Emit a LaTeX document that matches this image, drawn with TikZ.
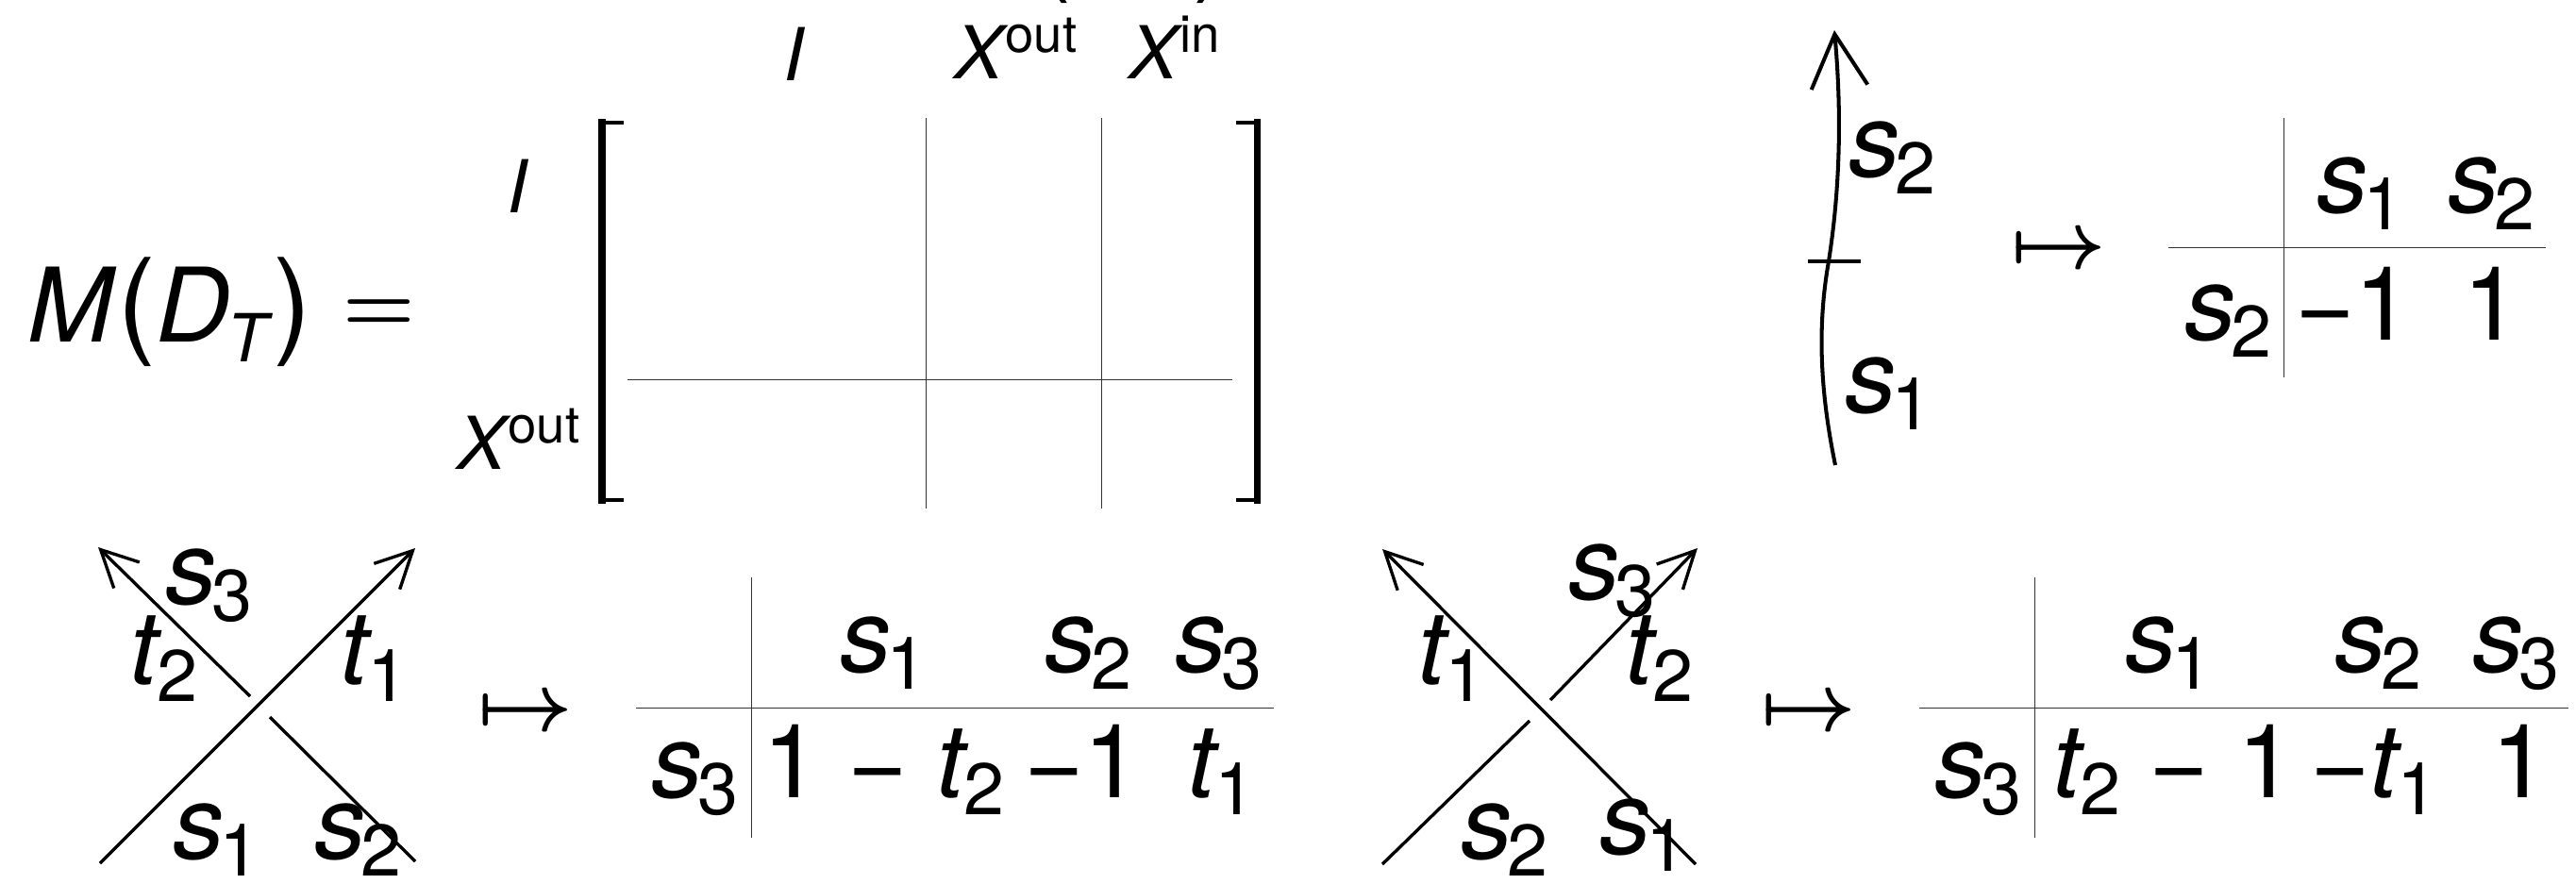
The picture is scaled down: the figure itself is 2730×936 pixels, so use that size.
\documentclass[tikz,border=0pt]{standalone}
\usepackage{fontspec}
\setmainfont{TeX Gyre Heros}
\usetikzlibrary{arrows.meta}
\newcommand{\vv}[2]{\textit{#1}\kern-.05em\raisebox{-.17em}{\fontsize{22}{22}\selectfont #2}}
\newcommand{\vu}[2]{\textit{#1}\kern-.04em\raisebox{.36em}{\fontsize{15.5}{15.5}\selectfont #2}}
\newcommand{\mns}{−}
\tikzset{
  every node/.style={inner sep=0pt,outer sep=0pt,anchor=center},
  big/.style={font=\fontsize{31}{31}\selectfont},
  small/.style={font=\fontsize{22}{22}\selectfont},
  symb/.style={font=\fontsize{38}{38}\selectfont\boldmath},
  rule/.style={draw=black!80,line width=0.28pt},
  strand/.style={draw=black,line width=0.95pt},
  heavy/.style={draw=black,line width=1.15pt},
  arrow/.style={strand,-{Straight Barb[length=11pt,width=11pt,line width=0.95pt]}},
  bigarrow/.style={heavy,-{Straight Barb[length=16pt,width=17pt,line width=1.15pt]}},
  brkv/.style={draw=black,line width=2pt},
  brkt/.style={draw=black,line width=1.3pt},
}
\begin{document}
\begin{tikzpicture}[x=0.01cm,y=-0.01cm]
\useasboundingbox (0,0) rectangle (2730,936);
% top clipped parens
\node[big] (pl) at (1118,-48) {(};
\node[big] (pr) at (1283,-48) {)};
% M(D_T)
\node[big,anchor=base west] (m) at (30,362) {\textit{M}{\fontsize{35}{35}\selectfont(}\textit{D}\kern-.03em\raisebox{-.2em}{\fontsize{20}{20}\selectfont\textit{T}}{\fontsize{35}{35}\selectfont)}};
\node[symb] (eq) at (402,335) {$=$};
% headers
\node[small] (hi) at (842,57) {\textit{I}};
\node[small,anchor=base west] (hxo) at (1011,83) {\vu{X}{out}};
\node[small,anchor=base west] (hxi) at (1196,83) {\vu{X}{in}};
\node[small] (ri) at (549,197) {\textit{I}};
\node[small,anchor=base west] (rx) at (484,497) {\vu{X}{out}};
% brackets
\coordinate (bl1) at (661,130); \coordinate (bl2) at (638,130); \coordinate (bl3) at (638,530); \coordinate (bl4) at (661,530);
\draw[brkv,line cap=rect] (bl2) -- (bl3);
\draw[brkt] (bl1) -- (bl2) (bl3) -- (bl4);
\coordinate (br1) at (1310,130); \coordinate (br2) at (1332,130); \coordinate (br3) at (1332,530); \coordinate (br4) at (1310,530);
\draw[brkv,line cap=rect] (br2) -- (br3);
\draw[brkt] (br1) -- (br2) (br3) -- (br4);
% matrix rules
\coordinate (mv1a) at (981,125); \coordinate (mv1b) at (981,539);
\coordinate (mv2a) at (1167,125); \coordinate (mv2b) at (1167,539);
\coordinate (mha) at (665,402); \coordinate (mhb) at (1306,402);
\draw[rule] (mv1a) -- (mv1b);
\draw[rule] (mv2a) -- (mv2b);
\draw[rule] (mha) -- (mhb);
% top right strand
\coordinate (sa) at (1945,493); \coordinate (sm) at (1938,277); \coordinate (sb) at (1944,32);
\draw[bigarrow] (sa) .. controls (1930,420) and (1925,350) .. (sm) .. controls (1950,200) and (1952,120) .. (sb);
\coordinate (ta) at (1916,277); \coordinate (tb) at (1972,277);
\draw[heavy] (ta) -- (tb);
\node[big,anchor=base west] (ls2) at (1959,187) {\vv{s}{2}};
\node[big,anchor=base west] (ls1) at (1955,437) {\vv{s}{1}};
\node[symb] (mt1) at (2182,267) {$\mapsto$};
% top right table
\coordinate (t1va) at (2420,125); \coordinate (t1vb) at (2420,400);
\coordinate (t1ha) at (2298,262); \coordinate (t1hb) at (2698,262);
\draw[rule] (t1va) -- (t1vb);
\draw[rule] (t1ha) -- (t1hb);
\node[big,anchor=base west] (a1) at (2455,225) {\vv{s}{1}};
\node[big,anchor=base west] (a2) at (2594,225) {\vv{s}{2}};
\node[big,anchor=base west] (a3) at (2315,360) {\vv{s}{2}};
\node[big,anchor=base west] (a4) at (2432,360) {\mns 1};
\node[big,anchor=base west] (a5) at (2610,360) {1};
% left crossing
\coordinate (c1a) at (106,915); \coordinate (c1b) at (440,581);
\draw[arrow] (c1a) -- (c1b);
\coordinate (c1c) at (265,738); \coordinate (c1d) at (104,580);
\draw[arrow] (c1c) -- (c1d);
\coordinate (c1e) at (286,760); \coordinate (c1f) at (440,913);
\draw[strand] (c1e) -- (c1f);
\node[big,anchor=base west] (b1) at (175,640) {\vv{s}{3}};
\node[big,anchor=base west] (b2) at (137,725) {\vv{t}{2}};
\node[big,anchor=base west] (b3) at (360,725) {\vv{t}{1}};
\node[big,anchor=base west] (b4) at (183,910) {\vv{s}{1}};
\node[big,anchor=base west] (b5) at (333,910) {\vv{s}{2}};
\node[symb] (mt2) at (557,757) {$\mapsto$};
% left table
\coordinate (t2va) at (796,612); \coordinate (t2vb) at (796,888);
\coordinate (t2ha) at (674,750); \coordinate (t2hb) at (1350,750);
\draw[rule] (t2va) -- (t2vb);
\draw[rule] (t2ha) -- (t2hb);
\node[big,anchor=base west] (d1) at (890,712) {\vv{s}{1}};
\node[big,anchor=base west] (d2) at (1107,712) {\vv{s}{2}};
\node[big,anchor=base west] (d3) at (1245,712) {\vv{s}{3}};
\node[big,anchor=base west] (d4) at (690,845) {\vv{s}{3}};
\node[big,anchor=base west] (d5) at (808,845) {1 \mns{} \vv{t}{2}};
\node[big,anchor=base west] (d6) at (1085,845) {\mns 1};
\node[big,anchor=base west] (d7) at (1258,845) {\vv{t}{1}};
% right crossing
\coordinate (c2a) at (1465,916); \coordinate (c2b) at (1621,764);
\draw[strand] (c2a) -- (c2b);
\coordinate (c2c) at (1643,742); \coordinate (c2d) at (1799,581);
\draw[arrow] (c2c) -- (c2d);
\coordinate (c2e) at (1797,916); \coordinate (c2f) at (1465,582);
\draw[arrow] (c2e) -- (c2f);
\node[big,anchor=base west] (e1) at (1662,635) {\vv{s}{3}};
\node[big,anchor=base west] (e2) at (1502,725) {\vv{t}{1}};
\node[big,anchor=base west] (e3) at (1722,725) {\vv{t}{2}};
\node[big,anchor=base west] (e4) at (1548,910) {\vv{s}{2}};
\node[big,anchor=base west] (e5) at (1695,905) {\vv{s}{1}};
\node[symb] (mt3) at (1917,757) {$\mapsto$};
% right table
\coordinate (t3va) at (2156,612); \coordinate (t3vb) at (2156,888);
\coordinate (t3ha) at (2034,750); \coordinate (t3hb) at (2722,750);
\draw[rule] (t3va) -- (t3vb);
\draw[rule] (t3ha) -- (t3hb);
\node[big,anchor=base west] (f1) at (2252,712) {\vv{s}{1}};
\node[big,anchor=base west] (f2) at (2474,712) {\vv{s}{2}};
\node[big,anchor=base west] (f3) at (2620,712) {\vv{s}{3}};
\node[big,anchor=base west] (f4) at (2050,845) {\vv{s}{3}};
\node[big,anchor=base west] (f5) at (2175,845) {\vv{t}{2} \mns{} 1};
\node[big,anchor=base west] (f6) at (2448,845) {\mns\vv{t}{1}};
\node[big,anchor=base west] (f7) at (2640,845) {1};
\end{tikzpicture}
\end{document}
